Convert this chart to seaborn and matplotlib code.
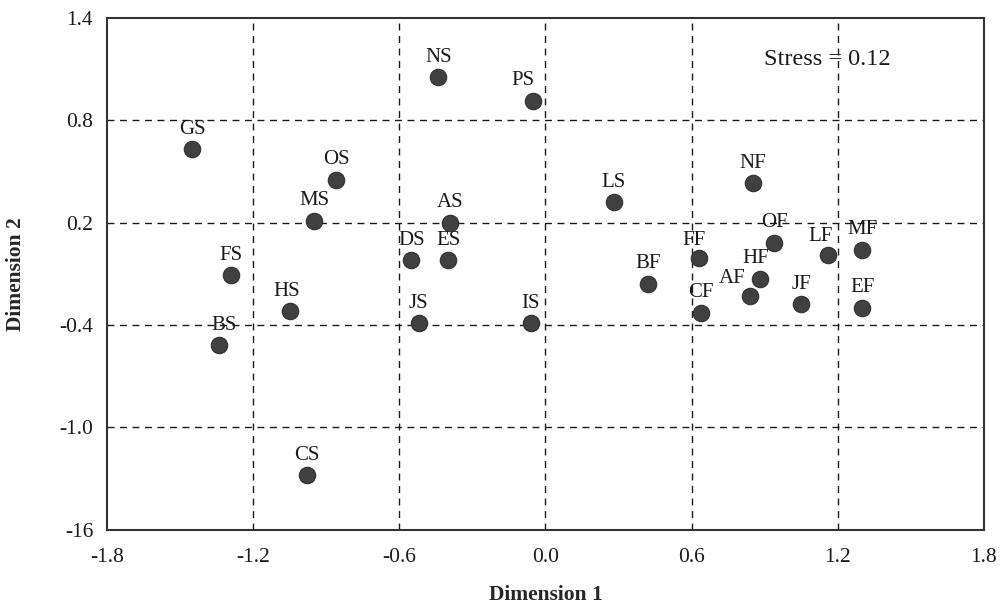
import numpy as np
import pandas as pd
import seaborn as sns
import matplotlib.pyplot as plt

# DATA ------------------------------------------------------------------------------------------------------

labels = ['NS', 'PS', 'GS', 'OS', 'MS', 'AS', 'LS', 'NF', 'OF', 'LF', 'MF', 'FF', 'HF',
          'AF', 'JF', 'EF', 'CF', 'BF', 'DS', 'ES', 'FS', 'HS', 'JS', 'IS', 'BS', 'CS']
dim1 = [-0.44, -0.05, -1.45, -0.86, -0.95, -0.39, 0.28, 0.85, 0.94, 1.16, 1.30, 0.63, 0.88,
        0.84, 1.05, 1.30, 0.64, 0.42, -0.55, -0.40, -1.29, -1.05, -0.52, -0.06, -1.34, -0.98]
dim2 = [1.05, 0.91, 0.63, 0.45, 0.21, 0.20, 0.32, 0.43, 0.08, 0.01, 0.04, -0.01, -0.13,
        -0.23, -0.28, -0.30, -0.33, -0.16, -0.02, -0.02, -0.11, -0.32, -0.39, -0.39, -0.52, -1.28]

xticks = [-1.8, -1.2, -0.6, 0.0, 0.6, 1.2, 1.8]
xtick_labels = ['-1.8', '-1.2', '-0.6', '0.0', '0.6', '1.2', '1.8']
yticks = [-1.6, -1.0, -0.4, 0.2, 0.8, 1.4]
ytick_labels = ['-16', '-1.0', '-0.4', '0.2', '0.8', '1.4']
stress_text = 'Stress = 0.12'

df = pd.DataFrame({'label': labels, 'Dimension 1': dim1, 'Dimension 2': dim2})

# label offsets (pixels) where the text is not straight above the point
label_shift = {'PS': (-10, 21), 'AF': (-18, 17), 'LF': (-7, 18), 'FF': (-5, 18),
               'HF': (-4, 20), 'BS': (5, 20), 'HS': (-3, 20)}

# PLOT ------------------------------------------------------------------------------------------------------

sns.set_style('white')
plt.rcParams['font.family'] = ['Liberation Serif', 'DejaVu Serif']

fig, ax = plt.subplots(figsize=(10.05, 6.13), dpi=100)
fig.subplots_adjust(left=0.1065, right=0.979, top=0.971, bottom=0.136)

sns.scatterplot(data=df, x='Dimension 1', y='Dimension 2', ax=ax, s=140,
                color='#404040', edgecolor='#303030', linewidth=0.8, zorder=3)

for lab, x, y in zip(labels, dim1, dim2):
    dx, dy = label_shift.get(lab, (0, 20))
    ax.annotate(lab, (x, y), xytext=(dx, dy), textcoords='offset pixels',
                ha='center', va='center', fontsize=15, color='#1a1a1a', zorder=4)

ax.text(0.821, 0.918, stress_text, transform=ax.transAxes, ha='center', va='center',
        fontsize=17.5, color='#1a1a1a')

ax.set_xlim(-1.8, 1.8)
ax.set_ylim(-1.6, 1.4)
ax.set_xticks(xticks)
ax.set_xticklabels(xtick_labels)
ax.set_yticks(yticks)
ax.set_yticklabels(ytick_labels)
ax.tick_params(length=0, labelsize=15.5, labelcolor='#1a1a1a')
ax.tick_params(axis='x', pad=13)
ax.tick_params(axis='y', pad=10)

# dashed grid at the interior ticks
for xv in xticks[1:-1]:
    ax.axvline(xv, color='#1a1a1a', linestyle=(0, (5, 4)), linewidth=1.0, zorder=1)
for yv in yticks[1:-1]:
    ax.axhline(yv, color='#1a1a1a', linestyle=(0, (5, 4)), linewidth=1.0, zorder=1)

for sp in ax.spines.values():
    sp.set_visible(True)
    sp.set_color('#333333')
    sp.set_linewidth(1.5)

ax.set_xlabel('Dimension 1', fontsize=15.5, fontweight='bold', labelpad=13)
ax.set_ylabel('Dimension 2', fontsize=15.5, fontweight='bold', labelpad=24)

fig.savefig('out.png', dpi=100)
